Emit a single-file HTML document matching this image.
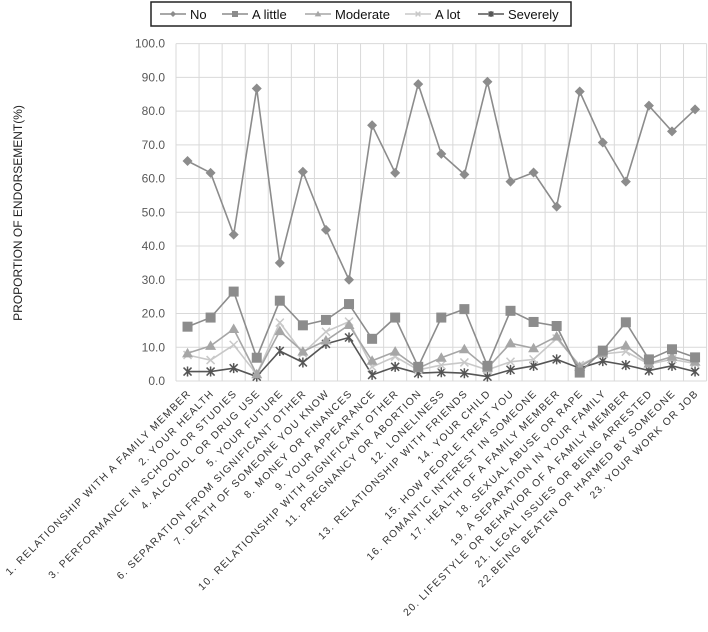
<!DOCTYPE html>
<html><head><meta charset="utf-8"><style>
body{margin:0;background:#fff;}
svg{display:block;font-family:"Liberation Sans",sans-serif;}
</style></head><body>
<svg id="chart" width="708" height="632">
<g id="grid"></g><g id="series"></g><g id="labels"></g>
<text transform="translate(22,213) rotate(-90)" text-anchor="middle" font-size="12" fill="#222">PROPORTION OF ENDORSEMENT(%)</text>
<g>
<rect x="151" y="2" width="420" height="24" fill="#fff" stroke="#222" stroke-width="1.5"/>
</g>
<g id="legend-items"></g>
</svg>
<script>
const categories=["1. RELATIONSHIP WITH A FAMILY MEMBER","2. YOUR HEALTH","3. PERFORMANCE IN SCHOOL OR STUDIES","4. ALCOHOL OR DRUG USE","5. YOUR FUTURE","6. SEPARATION FROM SIGNIFICANT OTHER","7. DEATH OF SOMEONE YOU KNOW","8. MONEY OR FINANCES","9. YOUR APPEARANCE","10. RELATIONSHIP WITH SIGNIFICANT OTHER","11. PREGNANCY OR ABORTION","12. LONELINESS","13. RELATIONSHIP WITH FRIENDS","14. YOUR CHILD","15. HOW PEOPLE TREAT YOU","16. ROMANTIC INTEREST IN SOMEONE","17. HEALTH OF A FAMILY MEMBER","18. SEXUAL ABUSE OR RAPE","19. A SEPARATION IN YOUR FAMILY","20. LIFESTYLE OR BEHAVIOR OF A FAMILY MEMBER","21. LEGAL ISSUES OR BEING ARRESTED","22.BEING BEATEN OR HARMED BY SOMEONE","23. YOUR WORK OR JOB"];
const seriesNames=["No","A little","Moderate","A lot","Severely"];
const noVals=[65.2,61.7,43.4,86.7,35.0,62.0,44.8,30.0,75.8,61.7,88.0,67.3,61.2,88.7,59.1,61.8,51.7,85.8,70.7,59.1,81.6,74.0,80.5];
const aLittleVals=[16.1,18.8,26.5,6.9,23.8,16.5,18.1,22.8,12.5,18.8,4.2,18.8,21.3,4.5,20.8,17.5,16.3,2.5,9.0,17.4,6.4,9.4,7.0];
const moderateVals=[8.2,10.4,15.4,2.0,14.8,8.7,12.0,16.6,6.0,8.7,3.8,6.9,9.4,3.8,11.2,9.7,13.2,4.2,8.2,10.5,5.2,7.2,5.7];
const aLotVals=[7.7,6.2,10.7,2.0,17.3,8.2,14.6,17.6,4.2,7.2,3.3,4.7,5.5,3.3,5.7,6.4,12.6,4.7,8.0,8.7,5.0,6.4,5.2];
const severelyVals=[2.8,2.8,3.8,1.3,8.9,5.5,11.0,12.9,1.8,4.2,2.3,2.6,2.3,1.3,3.3,4.5,6.4,3.8,5.9,4.7,3.1,4.5,2.8];
const yTicks=[0,10,20,30,40,50,60,70,80,90,100];

const NS="http://www.w3.org/2000/svg";
const L=176,R=706.6,T=43.6,B=381;
const cw=(R-L)/categories.length;
const xs=i=>L+cw*(i+0.5);
const ys=v=>B-(v/100)*(B-T);
function mk(tag,attrs,parent){const e=document.createElementNS(NS,tag);for(const k in attrs)e.setAttribute(k,attrs[k]);parent.appendChild(e);return e;}
const grid=document.getElementById('grid');
yTicks.forEach(t=>{
  const ln=mk('line',{x1:L,x2:R,y1:ys(t),y2:ys(t),stroke:'#d9d9d9','stroke-width':1},grid);
  
  
  const tx=mk('text',{x:165,y:ys(t)+4,'text-anchor':'end','font-size':12,fill:'#595959'},grid);
  tx.textContent=t.toFixed(1);
  
  
});
for(let i=0;i<=categories.length;i++){
  const ln=mk('line',{x1:L+cw*i,x2:L+cw*i,y1:T,y2:B,stroke:'#d9d9d9','stroke-width':1},grid);
  
  
}
const lab=document.getElementById('labels');
categories.forEach((c,i)=>{
  const x=xs(i)+4,y=394;
  const tx=mk('text',{x:x,y:y,'text-anchor':'end','font-size':10.3,'letter-spacing':1.3,fill:'#333',transform:`rotate(-45 ${x} ${y})`},lab);
  tx.textContent=c;
  
  
});
const styles=[
 {vals:noVals,color:'#8c8c8c',mk:'diamond',mc:'#8c8c8c'},
 {vals:aLittleVals,color:'#8c8c8c',mk:'square',mc:'#8c8c8c'},
 {vals:moderateVals,color:'#a6a6a6',mk:'triangle',mc:'#a6a6a6'},
 {vals:aLotVals,color:'#c8c8c8',mk:'x',mc:'#c8c8c8'},
 {vals:severelyVals,color:'#555',mk:'star',mc:'#555'}
];
function marker(type,x,y,c,g,s){
  s=s||1;
  if(type==='diamond')return mk('path',{d:`M${x} ${y-5*s}L${x+5*s} ${y}L${x} ${y+5*s}L${x-5*s} ${y}Z`,fill:c},g);
  if(type==='square')return mk('rect',{x:x-5*s,y:y-5*s,width:10*s,height:10*s,fill:c},g);
  if(type==='triangle')return mk('path',{d:`M${x} ${y-5.5*s}L${x+5.5*s} ${y+4*s}L${x-5.5*s} ${y+4*s}Z`,fill:c},g);
  if(type==='x')return mk('path',{d:`M${x-4*s} ${y-4*s}L${x+4*s} ${y+4*s}M${x+4*s} ${y-4*s}L${x-4*s} ${y+4*s}`,stroke:c,'stroke-width':1.5,fill:'none'},g);
  return mk('path',{d:`M${x-4*s} ${y-4*s}L${x+4*s} ${y+4*s}M${x+4*s} ${y-4*s}L${x-4*s} ${y+4*s}M${x} ${y-5*s}L${x} ${y+5*s}`,stroke:c,'stroke-width':1.5,fill:'none'},g);
}
const sg=document.getElementById('series');
styles.slice().reverse().forEach((st,ri)=>{
  const si=styles.length-1-ri;
  const g=mk('g',{},sg);
  
  
  const d=st.vals.map((v,i)=>(i?'L':'M')+xs(i).toFixed(1)+' '+ys(v).toFixed(1)).join('');
  const p=mk('path',{d:d,fill:'none',stroke:st.color,'stroke-width':1.6},g);
  
  
  st.vals.forEach((v,i)=>{
    const m=marker(st.mk,xs(i),ys(v),st.mc,g);
    
    
  });
});
const lg=document.getElementById('legend-items');
const lx=[160,222,305,405,478];
seriesNames.forEach((n,i)=>{
  const g=mk('g',{},lg);
  
  
  mk('line',{x1:lx[i],x2:lx[i]+26,y1:14,y2:14,stroke:styles[i].color,'stroke-width':1.5},g);
  marker(styles[i].mk,lx[i]+13,14,styles[i].mc,g,0.6);
  const t=mk('text',{x:lx[i]+30,y:19,'font-size':13,fill:'#111'},g);
  t.textContent=n;
});
</script>
</body></html>
